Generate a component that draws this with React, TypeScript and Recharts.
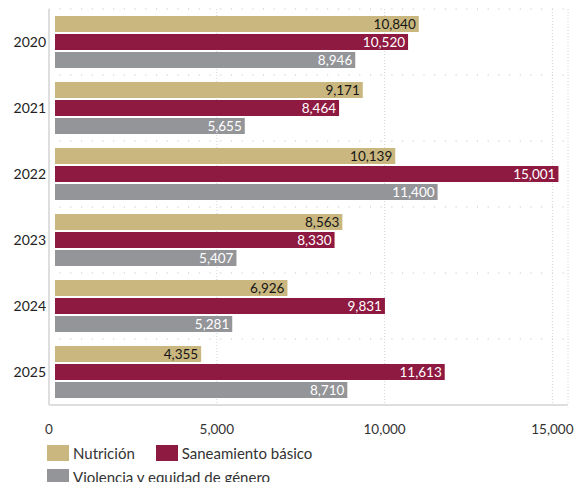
import React from 'react';
import { BarChart, Bar, XAxis, YAxis, CartesianGrid, Legend, LabelList } from 'recharts';

const years = ['2020', '2021', '2022', '2023', '2024', '2025'];
const nutricion = [10840, 9171, 10139, 8563, 6926, 4355];
const saneamiento = [10520, 8464, 15001, 8330, 9831, 11613];
const violencia = [8946, 5655, 11400, 5407, 5281, 8710];
const xTicks = [0, 5000, 10000, 15000];

const seriesNames = ['Nutrición', 'Saneamiento básico', 'Violencia y equidad de género'];
const seriesColors = ['#C9B77F', '#8F1A41', '#949599'];
const labelColors = ['#151515', '#ffffff', '#ffffff'];
const seriesKeys = ['nutricion', 'saneamiento', 'violencia'];

const data = years.map((y, i) => ({
  year: y,
  nutricion: nutricion[i],
  saneamiento: saneamiento[i],
  violencia: violencia[i],
}));

const FONT = 'Lato, "Open Sans", sans-serif';
const fmt = (v: any) => Number(v).toLocaleString('en-US');

const LegendContent = () => (
  <div
    style={{
      display: 'flex',
      flexWrap: 'wrap',
      width: 330,
      height: 40,
      rowGap: 8,
      fontFamily: FONT,
      fontSize: 15,
      color: '#333',
    }}
  >
    {seriesNames.map((n, i) => (
      <div key={n} style={{ display: 'flex', alignItems: 'center', height: 16, marginRight: 21 }}>
        <div style={{ width: 22, height: 16, background: seriesColors[i], marginRight: 4 }} />
        <span style={{ lineHeight: '16px', whiteSpace: 'nowrap' }}>{n}</span>
      </div>
    ))}
  </div>
);

export default function App() {
  return (
    <div style={{ width: 576, height: 474, overflow: 'hidden', fontFamily: FONT }}>
      <BarChart
        width={576}
        height={490}
        data={data}
        layout="vertical"
        margin={{ top: 1, right: 16, bottom: 13, left: 0 }}
        barSize={16}
        barGap={2}
      >
        <CartesianGrid
          horizontal={true}
          vertical={false}
          stroke="#bdbdbd"
          strokeDasharray="1 9.7"
          horizontalCoordinatesGenerator={({ offset }: any) =>
            years.map((_, i) => offset.top + (i * offset.height) / years.length)
          }
        />
        <CartesianGrid horizontal={false} vertical={true} stroke="#d6d6d6" strokeDasharray="1 2" />
        <XAxis
          type="number"
          domain={[0, 15465]}
          ticks={xTicks}
          allowDataOverflow
          tickFormatter={fmt}
          tickLine={false}
          tickSize={0}
          tickMargin={19}
          height={40}
          axisLine={{ stroke: '#dedede', strokeWidth: 2 }}
          tick={{ fill: '#333', fontSize: 13.5, fontFamily: FONT }}
        />
        <XAxis xAxisId="bars" type="number" domain={[-179, 15286]} allowDataOverflow hide />
        <YAxis
          type="category"
          dataKey="year"
          width={41}
          tickLine={false}
          tickSize={0}
          tickMargin={3}
          axisLine={{ stroke: '#dedede', strokeWidth: 2 }}
          tick={{ fill: '#222', fontSize: 14, fontFamily: FONT }}
        />
        <Legend verticalAlign="bottom" align="left" content={<LegendContent />} wrapperStyle={{ left: 39, width: 400 }} />
        {seriesKeys.map((k, i) => (
          <Bar key={k} dataKey={k} name={seriesNames[i]} xAxisId="bars" fill={seriesColors[i]} isAnimationActive={false}>
            <LabelList
              dataKey={k}
              position="insideRight"
              offset={3}
              formatter={fmt}
              fill={labelColors[i]}
              fontSize={13.5}
              fontFamily={FONT}
            />
          </Bar>
        ))}
      </BarChart>
    </div>
  );
}
